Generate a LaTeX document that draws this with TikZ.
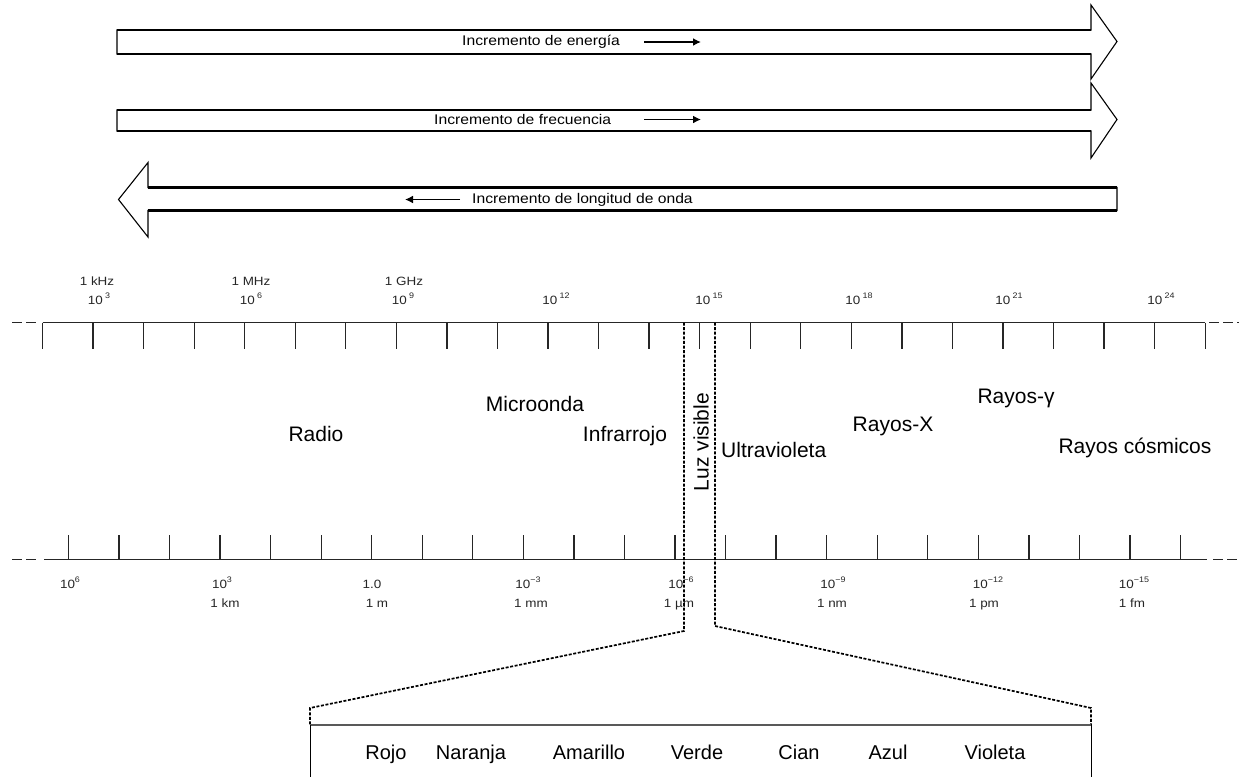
\documentclass[tikz,border=0pt]{standalone}
\usepackage{fontspec}
\usepackage{graphicx}
\setmainfont{Liberation Sans}
\usetikzlibrary{arrows.meta}
\newcommand{\stretchtxt}[1]{\scalebox{1.12}[1]{#1}}
\newcommand{\scl}[1]{\scalebox{1.12}[1]{#1}}
\newcommand{\pwsp}[1]{\scl{10\,\raisebox{0.45em}{\fontsize{8}{8}\selectfont #1}}}
\newcommand{\pwt}[1]{\scl{10\raisebox{0.45em}{\fontsize{8}{8}\selectfont #1}}}
\begin{document}
\begin{tikzpicture}[x=1pt,y=-1pt,
  shaft/.style={line width=2.8pt, line cap=butt},
  outline/.style={line width=1.1pt, line join=miter, fill=white},
  smallarrow/.style={line width=1.8pt, -{Latex[length=8pt,width=8pt]}},
  arrowlabel/.style={font=\fontsize{14}{16}\selectfont, inner sep=0pt},
  scalelab/.style={font=\fontsize{12}{14}\selectfont, inner sep=0pt, text=black!85, anchor=base},
  region/.style={font=\fontsize{21}{24}\selectfont, inner sep=0pt},
  colorlab/.style={font=\fontsize{20}{24}\selectfont, inner sep=0pt, anchor=base},
  scaleline/.style={line width=1.3pt, draw=black!85},
  tickmark/.style={line width=1.3pt, draw=black!85},
  endgap/.style={line width=1.3pt, draw=black!85, dash pattern=on 10pt off 4pt},
  dottedline/.style={line width=1.7pt, dash pattern=on 3pt off 1.6pt},
]
\useasboundingbox (0,0) rectangle (1243,777);

% ---- big arrow: energy
\draw[outline] (117,30) -- (1091,30) -- (1091,5) -- (1117,41.5) -- (1091,79) -- (1091,54) -- (117,54) -- cycle;
\draw[shaft] (117,30) -- (1091,30);
\draw[shaft] (117,54) -- (1091,54);
\node[arrowlabel, anchor=west] (tE) at (462,42) {\stretchtxt{Incremento de energía}};
\coordinate (eS) at (644,42);
\coordinate (eE) at (701,42);
\draw[smallarrow] (eS) -- (eE);

% ---- big arrow: frequency
\draw[outline] (117,110) -- (1091,110) -- (1091,83) -- (1117,119.5) -- (1091,158) -- (1091,131) -- (117,131) -- cycle;
\draw[shaft] (117,110) -- (1091,110);
\draw[shaft] (117,131) -- (1091,131);
\node[arrowlabel, anchor=west] (tF) at (434,119.5) {\stretchtxt{Incremento de frecuencia}};
\coordinate (fS) at (644,119.5);
\coordinate (fE) at (701,119.5);
\draw[smallarrow] (fS) -- (fE);

% ---- big arrow: wavelength
\draw[outline] (1117,187.5) -- (148,187.5) -- (148,162.5) -- (118.5,199.5) -- (148,237) -- (148,210.5) -- (1117,210.5) -- cycle;
\draw[shaft] (148,187.5) -- (1117,187.5);
\draw[shaft] (148,210.5) -- (1117,210.5);
\node[arrowlabel, anchor=west] (tW) at (472,199.5) {\stretchtxt{Incremento de longitud de onda}};
\coordinate (wS) at (460,199.5);
\coordinate (wE) at (405,199.5);
\draw[smallarrow] (wS) -- (wE);

% ---- top (frequency) scale
\draw[endgap] (12,322.5) -- (38,322.5);
\draw[endgap] (1209,322.5) -- (1239,322.5);
\draw[scaleline] (42.5,322.5) -- (1205.2,322.5);
\foreach \i in {0,...,23} \draw[tickmark] ({42.5+50.55*\i},322.5) -- ({42.5+50.55*\i},349);

\node[scalelab] (fk) at (97,285) {\scl{1 kHz}};
\node[scalelab] (fM) at (251,285) {\scl{1 MHz}};
\node[scalelab] (fG) at (404,285) {\scl{1 GHz}};
\node[scalelab] (p3) at (99,304) {\pwsp{3}};
\node[scalelab] (p6) at (251,304) {\pwsp{6}};
\node[scalelab] (p9) at (403,304) {\pwsp{9}};
\node[scalelab] (p12) at (556,304) {\pwsp{12}};
\node[scalelab] (p15) at (709,304) {\pwsp{15}};
\node[scalelab] (p18) at (859,304) {\pwsp{18}};
\node[scalelab] (p21) at (1009,304) {\pwsp{21}};
\node[scalelab] (p24) at (1161,304) {\pwsp{24}};

% ---- bottom (wavelength) scale
\draw[endgap] (12,559.5) -- (38,559.5);
\draw[endgap] (1213,559.5) -- (1239,559.5);
\draw[scaleline] (44,559.5) -- (1207,559.5);
\foreach \i in {0,...,22} \draw[tickmark] ({68.4+50.55*\i},559.5) -- ({68.4+50.55*\i},535);

\node[scalelab] (l6) at (70,588) {\pwt{6}};
\node[scalelab] (l3) at (222,588) {\pwt{3}};
\node[scalelab] (l0) at (372,588) {\scl{1.0}};
\node[scalelab] (lm3) at (528,588) {\pwt{−3}};
\node[scalelab] (lm6) at (681,588) {\pwt{−6}};
\node[scalelab] (lm9) at (833,588) {\pwt{−9}};
\node[scalelab] (lm12) at (988,588) {\pwt{−12}};
\node[scalelab] (lm15) at (1134,588) {\pwt{−15}};
\node[scalelab] (ukm) at (225,607) {\scl{1 km}};
\node[scalelab] (um) at (377,607) {\scl{1 m}};
\node[scalelab] (umm) at (531,607) {\scl{1 mm}};
\node[scalelab] (uum) at (679,607) {\scl{1 µm}};
\node[scalelab] (unm) at (832,607) {\scl{1 nm}};
\node[scalelab] (upm) at (984,607) {\scl{1 pm}};
\node[scalelab] (ufm) at (1132,607) {\scl{1 fm}};

% ---- region names
\node[region] (radio) at (316,434) {Radio};
\node[region] (micro) at (535,404) {Microonda};
\node[region] (infra) at (625,436) {Infrarrojo};
\node[region, rotate=90] (luz) at (701,442) {Luz visible};
\node[region, anchor=west] (ultra) at (721,450) {Ultravioleta};
\node[region] (rx) at (893,426) {Rayos-X};
\node[region] (rg) at (1016,398) {Rayos-γ};
\node[region] (rc) at (1135,448) {Rayos cósmicos};

% ---- visible band and zoom box
\coordinate (vL) at (684,322.5);
\coordinate (vR) at (715,322.5);
\coordinate (bL) at (310,725);
\coordinate (bR) at (1091,725);
\draw[dottedline] (vL) -- (684,631) -- (310,708) -- (bL);
\draw[dottedline] (vR) -- (715,626) -- (1091,708) -- (bR);
\draw[line width=2.4pt, draw=black!65] (bL) -- (bR);
\draw[line width=1pt] (bL) -- (310,777);
\draw[line width=1pt] (bR) -- (1091,777);

\node[colorlab] (cRojo) at (386,759.5) {Rojo};
\node[colorlab] (cNar) at (471,759.5) {Naranja};
\node[colorlab] (cAma) at (589,759.5) {Amarillo};
\node[colorlab] (cVer) at (697,759.5) {Verde};
\node[colorlab] (cCia) at (799,759.5) {Cian};
\node[colorlab] (cAzu) at (888,759.5) {Azul};
\node[colorlab] (cVio) at (995,759.5) {Violeta};
\end{tikzpicture}
\end{document}
